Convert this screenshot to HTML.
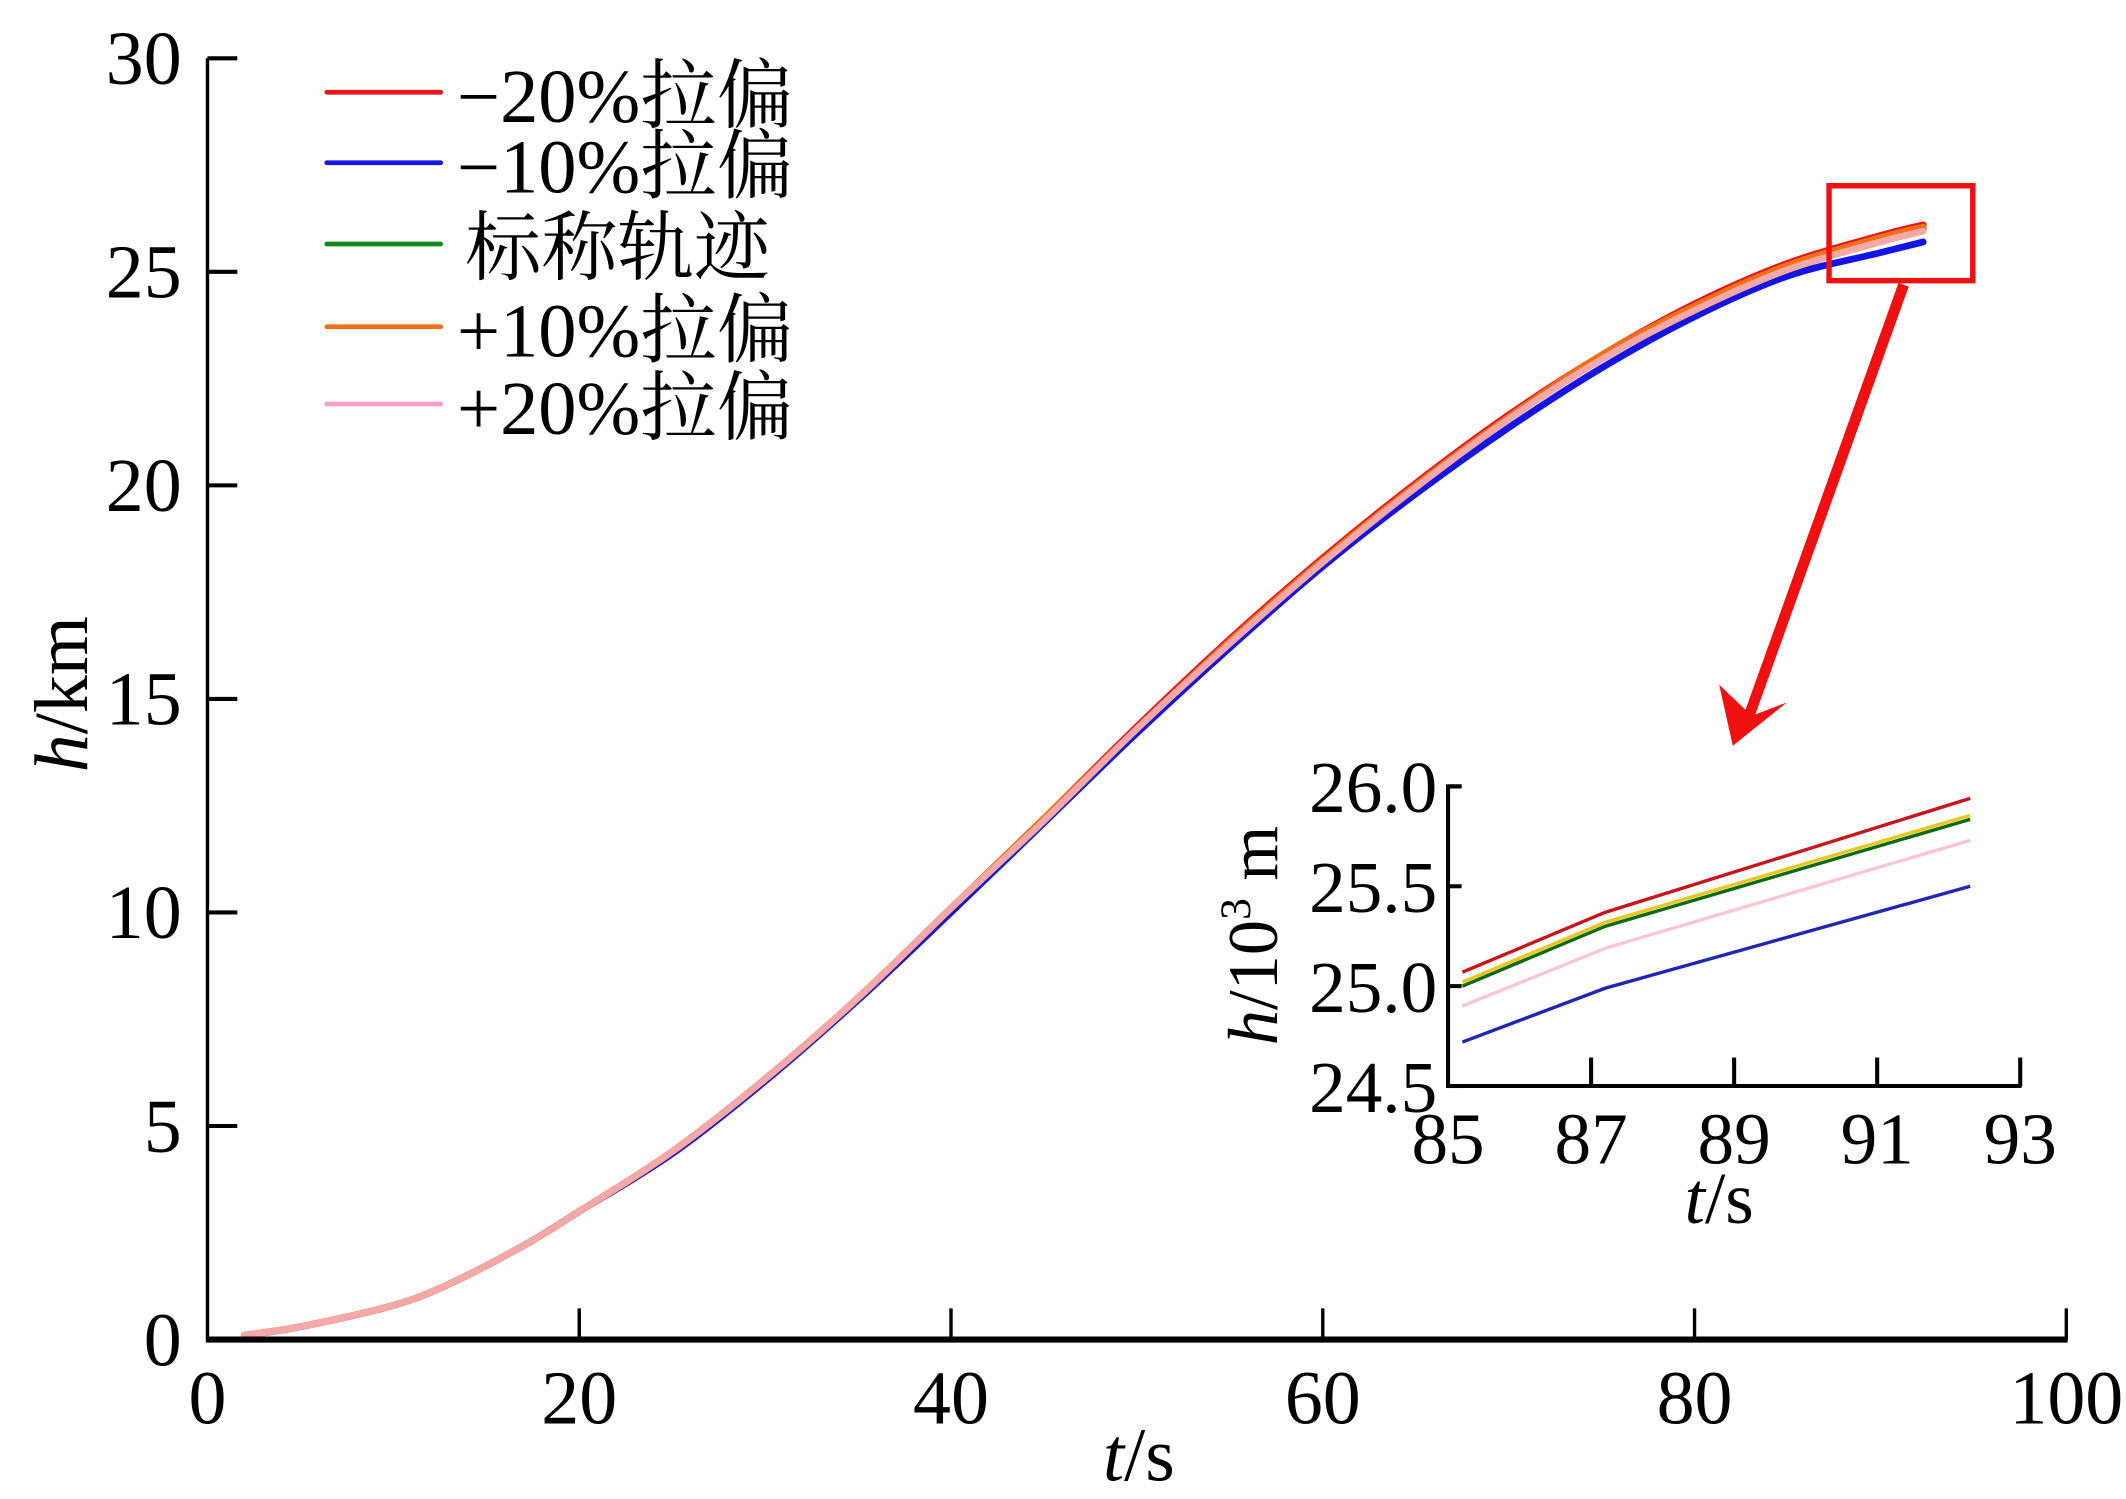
<!DOCTYPE html>
<html><head><meta charset="utf-8"><style>
html,body{margin:0;padding:0;background:#fff;}
svg{display:block;}
text{font-family:"Liberation Serif","Noto Serif CJK SC",serif;fill:#000;}
</style></head><body>
<svg id="chart" width="2126" height="1499" viewBox="0 0 1568 1105.6" xmlns="http://www.w3.org/2000/svg">
<g id="main"></g>
<g id="inset"></g>
<g id="legend"></g>
<rect x="1349" y="137" width="106" height="70" fill="none" stroke="#f01010" stroke-width="4"/>
<g>
<line x1="1404" y1="210" x2="1290" y2="528" stroke="#f01010" stroke-width="8"/>
<polygon points="1278,550 1268,505 1292,528 1318,518" fill="#f01010"/>
</g>
</svg>
<script>
// main chart data
const tMain = [2, 5, 10, 13, 17, 20, 25, 30, 35, 40, 45, 50, 55, 60, 65, 70, 75, 80, 85, 90, 92.3];
const hRed =    [0.1, 0.3, 0.8, 1.3, 2.2, 3.0, 4.4, 6.1, 8.0, 10.1, 12.2, 14.35, 16.4, 18.3, 20.05, 21.65, 23.05, 24.25, 25.2, 25.85, 26.1];
const hBlue =   [0.1, 0.3, 0.8, 1.3, 2.2, 3.0, 4.35, 6.05, 7.95, 10.0, 12.1, 14.2, 16.2, 18.1, 19.8, 21.35, 22.75, 23.95, 24.9, 25.45, 25.7];
const hGreen =  [0.1, 0.3, 0.8, 1.3, 2.2, 3.0, 4.4, 6.1, 8.0, 10.1, 12.15, 14.3, 16.35, 18.25, 20.0, 21.6, 23.0, 24.2, 25.1, 25.75, 26.0];
const hOrange = [0.1, 0.3, 0.8, 1.3, 2.2, 3.0, 4.4, 6.1, 8.0, 10.1, 12.2, 14.3, 16.35, 18.25, 20.0, 21.6, 23.05, 24.2, 25.15, 25.8, 26.05];
const hPink =   [0.1, 0.3, 0.8, 1.3, 2.2, 3.0, 4.4, 6.1, 8.0, 10.1, 12.15, 14.3, 16.3, 18.2, 19.95, 21.55, 22.95, 24.1, 25.05, 25.7, 25.95];
const xTicks = [0, 20, 40, 60, 80, 100];
const yTicks = [0, 5, 10, 15, 20, 25, 30];
// inset data
const tInset = [85.2, 87.2, 92.3];
const iRed =    [25.07, 25.37, 25.94];
const iOrange = [25.02, 25.32, 25.855];
const iGreen =  [25.0, 25.30, 25.835];
const iPink =   [24.9, 25.19, 25.73];
const iBlue =   [24.72, 24.99, 25.5];
const ixTicks = [85, 87, 89, 91, 93];
const iyTicks = ["24.5", "25.0", "25.5", "26.0"];
const legendLabels = ["\u221220%拉偏", "\u221210%拉偏", "标称轨迹", "+10%拉偏", "+20%拉偏"];
const legendColors = ["#e8141a", "#1414e6", "#128a1e", "#f07018", "#f8a0c8"];

const NS = "http://www.w3.org/2000/svg";
function mk(parent, tag, attrs, txt) {
  const e = document.createElementNS(NS, tag);
  for (const k in attrs) e.setAttribute(k, attrs[k]);
  if (txt !== undefined) e.textContent = txt;
  parent.appendChild(e);
  return e;
}
const X = t => 153 + (t - 0) * (1524 - 153) / 100;
const Y = h => 988 - h * (988 - 43) / 30;
const IX = t => 1068 + (t - 85) * (1490 - 1068) / 8;
const IY = h => 801 - (h - 24.5) * (801 - 580) / 1.5;

function smooth(pts) {
  let d = "M" + pts[0][0] + "," + pts[0][1];
  for (let i = 0; i < pts.length - 1; i++) {
    const p0 = pts[i - 1] || pts[i], p1 = pts[i], p2 = pts[i + 1], p3 = pts[i + 2] || p2;
    const c1 = [p1[0] + (p2[0] - p0[0]) / 6, p1[1] + (p2[1] - p0[1]) / 6];
    const c2 = [p2[0] - (p3[0] - p1[0]) / 6, p2[1] - (p3[1] - p1[1]) / 6];
    d += "C" + c1 + " " + c2 + " " + p2;
  }
  return d;
}

const main = document.getElementById("main");
const seriesMain = [["blue", hBlue, "#1414e6"], ["green", hGreen, "#128a1e"], ["red", hRed, "#e8141a"], ["orange", hOrange, "#f07018"], ["pink", hPink, "#f4a8a8"]];
seriesMain.forEach(s => {
  const p = mk(main, "path", {d: smooth(tMain.map((t, i) => [X(t), Y(s[1][i])])), fill: "none", stroke: s[2], "stroke-width": 5, "stroke-linecap": "round"});
  
  
});
let a = mk(main, "line", {x1: 153, y1: 43, x2: 153, y2: 990, stroke: "#000", "stroke-width": 2.5});


a = mk(main, "line", {x1: 152, y1: 988, x2: 1525, y2: 988, stroke: "#000", "stroke-width": 4.5});


yTicks.forEach(v => {
  const l = mk(main, "line", {x1: 153, y1: Y(v), x2: 175, y2: Y(v), stroke: "#000", "stroke-width": 3});
  
  
  const t = mk(main, "text", {x: 134, y: Y(v) + 19, "font-size": 56, "text-anchor": "end"}, String(v));
  
  
});
xTicks.forEach(v => {
  if (v > 0) {
    const l = mk(main, "line", {x1: X(v), y1: 988, x2: X(v), y2: 965, stroke: "#000", "stroke-width": 2.5});
    
    
  }
  const t = mk(main, "text", {x: X(v), y: 1050, "font-size": 56, "text-anchor": "middle"}, String(v));
  
  
});
let tl = mk(main, "text", {x: 840, y: 1092, "font-size": 56, "text-anchor": "middle"});
tl.innerHTML = '<tspan font-style="italic">t</tspan>/s';


tl = mk(main, "text", {x: 0, y: 0, "font-size": 56, "text-anchor": "middle", transform: "translate(64,512) rotate(-90)"});
tl.innerHTML = '<tspan font-style="italic">h</tspan>/km';



// inset
const inset = document.getElementById("inset");
const seriesInset = [["blue", iBlue, "#1e28b4"], ["pink", iPink, "#f8c8d0"], ["orange", iOrange, "#e8c820"], ["green", iGreen, "#106a14"], ["red", iRed, "#c8141a"]];
seriesInset.forEach(s => {
  const p = mk(inset, "polyline", {points: tInset.map((t, i) => IX(t) + "," + IY(s[1][i])).join(" "), fill: "none", stroke: s[2], "stroke-width": 2.5});
  
  
});
a = mk(inset, "polyline", {points: "1078,580 1068,580 1068,801 1491,801", fill: "none", stroke: "#000", "stroke-width": 3});


iyTicks.forEach(v => {
  const y = IY(parseFloat(v));
  const l = mk(inset, "line", {x1: 1068, y1: y, x2: 1078, y2: y, stroke: "#000", "stroke-width": 3});
  
  
  const t = mk(inset, "text", {x: 1060, y: y + 19, "font-size": 54, "text-anchor": "end"}, v);
  
  
});
ixTicks.forEach(v => {
  if (v > 85) {
    const l = mk(inset, "line", {x1: IX(v), y1: 801, x2: IX(v), y2: 780, stroke: "#000", "stroke-width": 3});
    
    
  }
  const t = mk(inset, "text", {x: IX(v), y: 858, "font-size": 54, "text-anchor": "middle"}, String(v));
  
  
});
tl = mk(inset, "text", {x: 1268, y: 902, "font-size": 54, "text-anchor": "middle"});
tl.innerHTML = '<tspan font-style="italic">t</tspan>/s';


tl = mk(inset, "text", {x: 0, y: 0, "font-size": 52, "text-anchor": "middle", transform: "translate(942,690) rotate(-90)"});
tl.innerHTML = '<tspan font-style="italic">h</tspan>/10<tspan dy="-20" font-size="32">3</tspan><tspan dy="20"> m</tspan>';



// legend
const legend = document.getElementById("legend");
const legY = [68, 120, 180, 241, 298];
legendLabels.forEach((lab, i) => {
  const l = mk(legend, "line", {x1: 241, y1: legY[i], x2: 325, y2: legY[i], stroke: legendColors[i], "stroke-width": 3.5, "stroke-linecap": "round"});
  
  
  const t = mk(legend, "text", {x: i === 2 ? 343 : 337, y: legY[i] + 22, "font-size": 56, textLength: i === 2 ? 225 : 248, lengthAdjust: "spacingAndGlyphs"}, lab);
  
  
});
</script>
</body></html>
